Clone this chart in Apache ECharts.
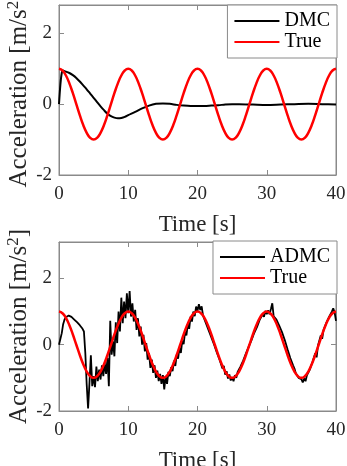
<!DOCTYPE html>
<html><head><meta charset="utf-8">
<script src="https://cdn.jsdelivr.net/npm/echarts@6/dist/echarts.min.js"></script>
<style>html,body{margin:0;padding:0;background:#fff;overflow:hidden}#c{width:347px;height:466px}</style>
</head><body><div id="c"></div>
<script>
// ---- data ----
const xTicks = [0, 10, 20, 30, 40];
const yTicks = [-2, 0, 2];

const timeTrue = [0,0.5,1,1.5,2,2.5,3,3.5,4,4.5,5,5.5,6,6.5,7,7.5,8,8.5,9,9.5,
 10,10.5,11,11.5,12,12.5,13,13.5,14,14.5,15,15.5,16,16.5,17,17.5,18,18.5,19,19.5,
 20,20.5,21,21.5,22,22.5,23,23.5,24,24.5,25,25.5,26,26.5,27,27.5,28,28.5,29,29.5,
 30,30.5,31,31.5,32,32.5,33,33.5,34,34.5,35,35.5,36,36.5,37,37.5,38,38.5,39,39.5,40];
const valTrue = [1,0.951,0.809,0.588,0.309,0,-0.309,-0.588,-0.809,-0.951,-1,-0.951,-0.809,-0.588,-0.309,0,0.309,0.588,0.809,0.951,
 1,0.951,0.809,0.588,0.309,0,-0.309,-0.588,-0.809,-0.951,-1,-0.951,-0.809,-0.588,-0.309,0,0.309,0.588,0.809,0.951,
 1,0.951,0.809,0.588,0.309,0,-0.309,-0.588,-0.809,-0.951,-1,-0.951,-0.809,-0.588,-0.309,0,0.309,0.588,0.809,0.951,
 1,0.951,0.809,0.588,0.309,0,-0.309,-0.588,-0.809,-0.951,-1,-0.951,-0.809,-0.588,-0.309,0,0.309,0.588,0.809,0.951,1];

const timeDMC = [0,0.2,0.4,0.6,0.8,1,1.5,2,2.5,3,3.5,4,4.5,5,5.5,6,6.5,7,7.5,8,8.5,9,9.5,10,
 11,12,13,14,15,16,17,18,19,20,21,22,23,24,25,26,28,30,32,34,36,38,40];
const valDMC = [0,0.55,0.88,0.95,0.93,0.92,0.88,0.82,0.74,0.64,0.53,0.42,0.30,0.18,0.06,-0.06,-0.17,-0.27,-0.34,-0.38,-0.40,-0.39,-0.36,-0.31,
 -0.22,-0.12,-0.04,0.01,0.02,0.01,-0.02,-0.04,-0.05,-0.05,-0.05,-0.04,-0.03,-0.01,0.00,0.00,-0.01,-0.02,-0.01,0.00,0.01,0.00,-0.01];

const timeADMC = [0,0.2,0.4,0.6,0.8,1,1.2,1.4,1.6,1.8,
 2,2.2,2.4,2.6,2.8,3,3.2,3.4,3.6,3.8,
 4,4.2,4.4,4.6,4.8,5,5.2,5.4,5.6,5.8,
 6,6.2,6.4,6.6,6.8,7,7.2,7.4,7.6,7.8,
 8,8.2,8.4,8.6,8.8,9,9.2,9.4,9.6,9.8,
 10,10.2,10.4,10.6,10.8,11,11.2,11.4,11.6,11.8,
 12,12.2,12.4,12.6,12.8,13,13.2,13.4,13.6,13.8,
 14,14.2,14.4,14.6,14.8,15,15.2,15.4,15.6,15.8,
 16,16.2,16.4,16.6,16.8,17,17.2,17.4,17.6,17.8,
 18,18.2,18.4,18.6,18.8,19,19.2,19.4,19.6,19.8,
 20,20.2,20.4,20.6,20.8,21,21.2,21.4,21.6,21.8,
 22,22.2,22.4,22.6,22.8,23,23.2,23.4,23.6,23.8,
 24,24.2,24.4,24.6,24.8,25,25.2,25.4,25.6,25.8,
 26,26.2,26.4,26.6,26.8,27,27.2,27.4,27.6,27.8,
 28,28.2,28.4,28.6,28.8,29,29.2,29.4,29.6,29.8,
 30,30.2,30.4,30.6,30.8,31,31.2,31.4,31.6,31.8,
 32,32.2,32.4,32.6,32.8,33,33.2,33.4,33.6,33.8,
 34,34.2,34.4,34.6,34.8,35,35.2,35.4,35.6,35.8,
 36,36.2,36.4,36.6,36.8,37,37.2,37.4,37.6,37.8,
 38,38.2,38.4,38.6,38.8,39,39.2,39.4,39.6,39.8,40];
const valADMC = [0.00,-0.06,0.35,0.62,0.76,0.83,0.87,0.88,0.87,0.84,
 0.80,0.76,0.72,0.68,0.64,0.59,0.54,0.48,0.40,-0.25,
 -1.20,-1.92,-1.15,-0.32,-1.25,-0.95,-1.28,-0.66,-1.10,-0.75,
 -1.05,-0.62,-0.95,-0.55,-0.88,-0.40,-1.25,0.72,-0.30,0.10,
 -0.35,0.68,0.05,1.00,0.40,1.42,0.65,1.30,0.80,1.55,
 0.95,1.62,0.85,1.25,0.70,1.05,0.45,0.80,0.25,0.55,
 0.00,0.30,-0.20,0.05,-0.45,-0.25,-0.70,-0.45,-0.85,-0.62,
 -1.00,-0.78,-1.10,-0.88,-1.18,-0.92,-1.35,-0.95,-1.18,-0.82,
 -0.95,-0.68,-0.80,-0.48,-0.64,-0.30,-0.42,-0.08,-0.25,0.12,
 0.02,0.38,0.28,0.62,0.48,0.85,0.70,1.00,0.86,1.15,
 1.02,1.22,1.05,1.16,0.88,0.94,0.66,0.72,0.44,0.48,
 0.22,0.26,0.00,-0.02,-0.24,-0.22,-0.46,-0.46,-0.72,-0.64,
 -0.90,-0.80,-1.02,-0.90,-1.08,-0.98,-1.10,-0.92,-1.00,-0.82,
 -0.86,-0.66,-0.72,-0.48,-0.54,-0.26,-0.32,-0.06,-0.12,0.14,
 0.10,0.36,0.30,0.54,0.52,0.76,0.72,0.92,0.84,1.02,
 0.92,1.04,0.92,1.08,1.25,0.86,0.88,0.76,0.72,0.58,
 0.54,0.38,0.34,0.14,0.14,-0.14,-0.18,-0.40,-0.46,-0.62,
 -0.72,-0.86,-0.88,-1.00,-0.98,-1.04,-1.14,-1.02,-1.10,-0.92,
 -0.92,-0.76,-0.76,-0.52,-0.56,-0.26,-0.38,-0.02,0.02,0.28,
 0.18,0.44,0.50,0.66,0.68,0.84,0.86,1.00,1.10,0.98,0.72];

// ---- build ----
function pairs(t, v) { return t.map((x, i) => [x, v[i]]); }

const font = "'Liberation Serif','Times New Roman',serif";
const axisGray = '#8a8a8a';
const textCol = '#262626';

function xAxes(gi) {
  const base = {
    type: 'value', gridIndex: gi, min: xTicks[0], max: xTicks[xTicks.length - 1], interval: 10,
    axisLine: { show: true, onZero: false, lineStyle: { color: axisGray, width: 1 } },
    axisTick: { show: true, inside: true, length: 5, lineStyle: { color: axisGray } },
    splitLine: { show: false }
  };
  return [
    Object.assign({}, base, {
      position: 'bottom',
      axisLabel: { color: textCol, fontFamily: font, fontSize: 19, margin: 10 },
      name: 'Time [s]', nameLocation: 'middle', nameGap: 38,
      nameTextStyle: { color: textCol, fontFamily: font, fontSize: 23 }
    }),
    Object.assign({}, base, { position: 'top', axisLabel: { show: false } })
  ];
}
function yAxes(gi, maxV) {
  const base = {
    type: 'value', gridIndex: gi, min: yTicks[0], max: maxV, interval: 2,
    axisLine: { show: true, onZero: false, lineStyle: { color: axisGray, width: 1 } },
    axisTick: { show: true, inside: true, length: 5, lineStyle: { color: axisGray } },
    splitLine: { show: false }
  };
  return [
    Object.assign({}, base, {
      position: 'left',
      axisLabel: { color: textCol, fontFamily: font, fontSize: 19, margin: 7, showMaxLabel: false,
        formatter: v => yTicks.includes(v) ? String(v) : '' },
      name: 'Acceleration [m/s{sup|2}]', nameLocation: 'middle', nameGap: 25, nameRotate: 90,
      nameMoveOverlap: false,
      nameTextStyle: { color: textCol, fontFamily: font, fontSize: 25,
        rich: { sup: { fontFamily: font, fontSize: 17, color: textCol, padding: [0, 0, 12, 0] } } }
    }),
    Object.assign({}, base, { position: 'right', axisLabel: { show: false } })
  ];
}

const legendBase = {
  orient: 'vertical', right: 10, itemWidth: 45, itemHeight: 20, itemGap: 1,
  padding: [6, 7, 6, 7], backgroundColor: '#fff', borderColor: axisGray, borderWidth: 1, borderRadius: 0,
  textStyle: { color: '#000', fontFamily: font, fontSize: 20 }, icon: 'path://M0,0 L45,0 L45,2 L0,2 Z'
};

const gridBase = { containLabel: false, outerBoundsMode: 'none', show: true, borderColor: axisGray, borderWidth: 1 };

const option = {
  animation: false,
  backgroundColor: '#fff',
  grid: [
    Object.assign({ left: 59, top: 5, width: 277, height: 170 }, gridBase),
    Object.assign({ left: 59, top: 242, width: 277, height: 169 }, gridBase)
  ],
  xAxis: [...xAxes(0), ...xAxes(1)],
  yAxis: [...yAxes(0, 2.8), ...yAxes(1, 3.1)],
  legend: [
    Object.assign({}, legendBase, { top: 5, data: ['DMC', 'True'] }),
    Object.assign({}, legendBase, { top: 241, data: ['ADMC', 'True '] })
  ],
  series: [
    { name: 'DMC', type: 'line', xAxisIndex: 0, yAxisIndex: 0, data: pairs(timeDMC, valDMC),
      symbol: 'none', smooth: 0.3, lineStyle: { color: '#000', width: 2 }, itemStyle: { color: '#000' } },
    { name: 'True', type: 'line', xAxisIndex: 0, yAxisIndex: 0, data: pairs(timeTrue, valTrue),
      symbol: 'none', smooth: 0.5, lineStyle: { color: '#ff0000', width: 2.5 }, itemStyle: { color: '#ff0000' } },
    { name: 'ADMC', type: 'line', xAxisIndex: 2, yAxisIndex: 2, data: pairs(timeADMC, valADMC),
      symbol: 'none', lineStyle: { color: '#000', width: 1.8 }, itemStyle: { color: '#000' } },
    { name: 'True ', type: 'line', xAxisIndex: 2, yAxisIndex: 2, data: pairs(timeTrue, valTrue),
      symbol: 'none', smooth: 0.5, lineStyle: { color: '#ff0000', width: 2.5 }, itemStyle: { color: '#ff0000' } }
  ]
};
option.legend[1].formatter = n => n.trim();

const chart = echarts.init(document.getElementById('c'), null, { renderer: 'canvas' });
chart.setOption(option);
</script></body></html>
